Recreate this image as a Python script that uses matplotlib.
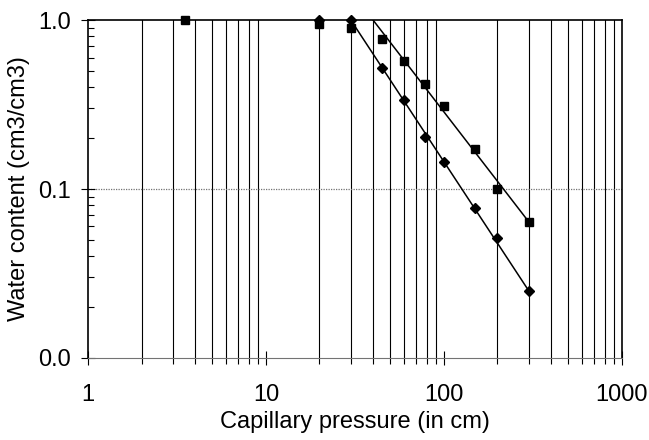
import numpy as np
import matplotlib
matplotlib.use("Agg")
import matplotlib.pyplot as plt
from matplotlib.ticker import FixedLocator, NullFormatter

plt.rcParams['font.family'] = ['Liberation Sans', 'DejaVu Sans']

# measured points (capillary pressure in cm, water content cm3/cm3)
sq_x = [3.5, 20, 30, 45, 60, 78, 100, 150, 200, 300]
sq_y = [1.0, 0.95, 0.90, 0.77, 0.57, 0.42, 0.31, 0.172, 0.10, 0.064]

dm_x = [20, 30, 45, 60, 78, 100, 150, 200, 300]
dm_y = [1.0, 1.0, 0.52, 0.336, 0.204, 0.144, 0.077, 0.051, 0.025]

# fitted straight lines (log-log)
sq_fit_x = [40, 300]
sq_fit_y = [1.0, 0.064]
dm_fit_x = [30, 300]
dm_fit_y = [1.0, 0.025]

fig = plt.figure(figsize=(6.49, 4.40), dpi=100)
ax = fig.add_axes([0.1356, 0.1864, 0.8224, 0.7681])
ax.set_xscale("log")
ax.set_yscale("log")
ax.set_xlim(1, 1000)
ax.set_ylim(0.01, 1.0)

# grid: minor verticals only, one horizontal at 0.1
minors = [m * 10 ** d for d in range(0, 3) for m in range(2, 10)]
for xv in minors:
    ax.axvline(xv, color="black", lw=0.8, zorder=1)
ax.axhline(0.1, color="0.45", lw=0.9, ls=(0, (1, 1)), zorder=1)

ax.plot(sq_fit_x, sq_fit_y, color="black", lw=1.1, zorder=2)
ax.plot(dm_fit_x, dm_fit_y, color="black", lw=1.1, zorder=2)
ax.plot(sq_x, sq_y, "s", color="black", ms=5.5, zorder=3, clip_on=False)
ax.plot(dm_x, dm_y, "D", color="black", ms=5, zorder=3, clip_on=False)

ax.xaxis.set_major_locator(FixedLocator([1, 10, 100, 1000]))
ax.set_xticklabels(["1", "10", "100", "1000"])
ax.xaxis.set_minor_locator(FixedLocator(minors))
ax.xaxis.set_minor_formatter(NullFormatter())
ax.yaxis.set_major_locator(FixedLocator([0.01, 0.1, 1.0]))
ax.set_yticklabels(["0.0", "0.1", "1.0"])
ymin = [m * 10 ** d for d in (-2, -1) for m in range(2, 10)]
ax.yaxis.set_minor_locator(FixedLocator(ymin))
ax.yaxis.set_minor_formatter(NullFormatter())

ax.tick_params(axis="x", which="major", direction="inout", length=10, width=0.8, labelsize=17, pad=14)
ax.tick_params(axis="x", which="minor", direction="out", length=4, width=0.8)
ax.tick_params(axis="y", which="major", direction="inout", length=10, width=0.8, labelsize=17, pad=7)
ax.tick_params(axis="y", which="minor", direction="in", length=4, width=0.8)

ax.spines["top"].set_linewidth(1.2)
ax.spines["right"].set_linewidth(1.2)
ax.spines["left"].set_linewidth(1.2)
ax.spines["bottom"].set_color("0.45")
ax.spines["bottom"].set_linestyle((0, (1, 1)))

ax.set_xlabel("Capillary pressure (in cm)", fontsize=17, labelpad=3)
ax.set_ylabel("Water content (cm3/cm3)", fontsize=17, labelpad=6)

fig.savefig("out.png", dpi=100)
